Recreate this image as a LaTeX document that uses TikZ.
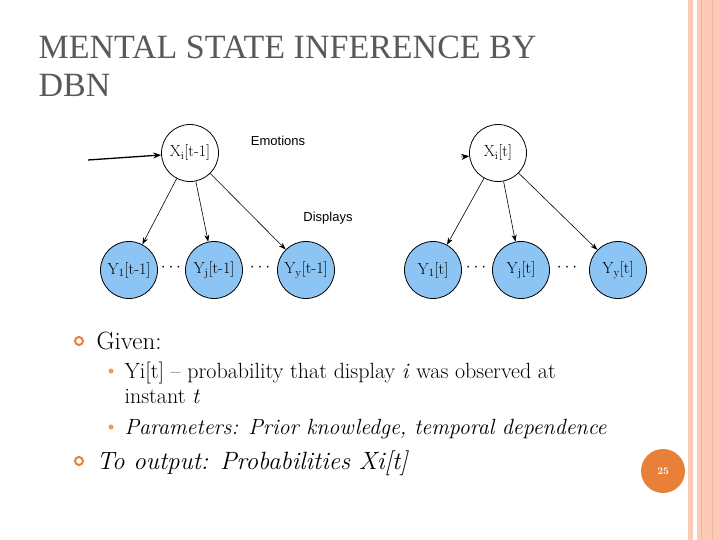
\documentclass[tikz,border=0pt]{standalone}
\usepackage{fontspec}
\newfontfamily\titlefont{Liberation Serif}
\newfontfamily\labfont{Liberation Sans}
\usetikzlibrary{arrows.meta}
\definecolor{salmon}{HTML}{FBCBB7}
\definecolor{salmonline}{HTML}{F4B59C}
\definecolor{nodeblue}{HTML}{8CC4F4}
\definecolor{bulorange}{HTML}{E8803A}
\begin{document}
\begin{tikzpicture}[x=1pt,y=-1pt,
  evid/.style={circle,draw,thick,fill=nodeblue,minimum size=57pt,inner sep=0pt,font=\fontsize{16}{16}\selectfont},
  hid/.style={circle,draw,thick,fill=white,minimum size=57pt,inner sep=0pt,font=\fontsize{16}{16}\selectfont},
  edge/.style={-{Stealth[length=7pt,width=5pt]},semithick},
  dots/.style={font=\fontsize{16}{16}\selectfont},
  lab/.style={font=\labfont\fontsize{13}{13}\selectfont},
  ring/.style={circle,draw=bulorange,line width=2pt,minimum size=8pt,inner sep=0pt},
  dot/.style={circle,fill=bulorange!80,minimum size=5pt,inner sep=0pt},
  ttl/.style={anchor=base west,text=black!65,font=\titlefont\fontsize{34}{34}\selectfont},
  big/.style={anchor=base west,font=\fontsize{25}{25}\selectfont},
  small/.style={anchor=base west,font=\fontsize{22}{22}\selectfont}]
\useasboundingbox (0,0) rectangle (720,540);
\fill[white] (0,0) rectangle (720,540);
\fill[salmon] (688,0) rectangle (693,540);
\fill[salmon] (697,0) rectangle (720,540);
\draw[salmonline,line width=1pt] (701,0) -- (701,540);
\draw[salmonline,line width=1pt] (712,0) -- (712,540);
\node[ttl] (title1) at (35,59) {MENTAL STATE INFERENCE BY};
\node[ttl] (title2) at (35,97) {DBN};
\node[hid] (x1) at (190,153) {X$_{\mathrm i}$[t-1]};
\node[evid] (y11) at (129,270) {Y$_{1}$[t-1]};
\node[evid] (y1j) at (214,270) {Y$_{\mathrm j}$[t-1]};
\node[evid] (y1y) at (306,270) {Y$_{\mathrm y}$[t-1]};
\node[dots] (d1) at (171,268) {$\cdots$};
\node[dots] (d2) at (260,268) {$\cdots$};
\coordinate (in1) at (88,160);
\draw[-{Stealth[length=8pt,width=6pt]},line width=1.3pt] (in1) -- (x1);
\draw[edge] (x1) -- (y11);
\draw[edge] (x1) -- (y1j);
\draw[edge] (x1) -- (y1y);
\node[lab] (emo) at (278,141) {Emotions};
\node[lab] (disp) at (328,218) {Displays};
\node[hid] (x2) at (498,153) {X$_{\mathrm i}$[t]};
\node[evid] (y21) at (433,270) {Y$_{1}$[t]};
\node[evid] (y2j) at (521,270) {Y$_{\mathrm j}$[t]};
\node[evid] (y2y) at (618,270) {Y$_{\mathrm y}$[t]};
\node[dots] (d3) at (476,268) {$\cdots$};
\node[dots] (d4) at (567,268) {$\cdots$};
\coordinate (in2) at (461,157);
\draw[-{Stealth[length=8pt,width=6pt]},line width=0.5pt] (in2) -- (x2);
\draw[edge] (x2) -- (y21);
\draw[edge] (x2) -- (y2j);
\draw[edge] (x2) -- (y2y);
\node[ring] (b1) at (79,341) {};
\node[big] (t1) at (93,349) {Given:};
\node[dot] (b2) at (111,371) {};
\node[small] (t2) at (121,378) {Yi[t] -- probability that display \textit{i} was observed at};
\node[small] (t2b) at (121,403) {instant \textit{t}};
\node[dot] (b3) at (111,427) {};
\node[small] (t3) at (121,434) {\textit{Parameters: Prior knowledge, temporal dependence}};
\node[ring] (b4) at (79,461) {};
\node[big] (t4) at (93,469) {\textit{To output: Probabilities Xi[t]}};
\node[circle,fill=bulorange,minimum size=44pt,inner sep=0pt,text=white,font=\fontsize{10}{10}\selectfont\bfseries] (pg) at (663,471) {25};
\end{tikzpicture}
\end{document}
